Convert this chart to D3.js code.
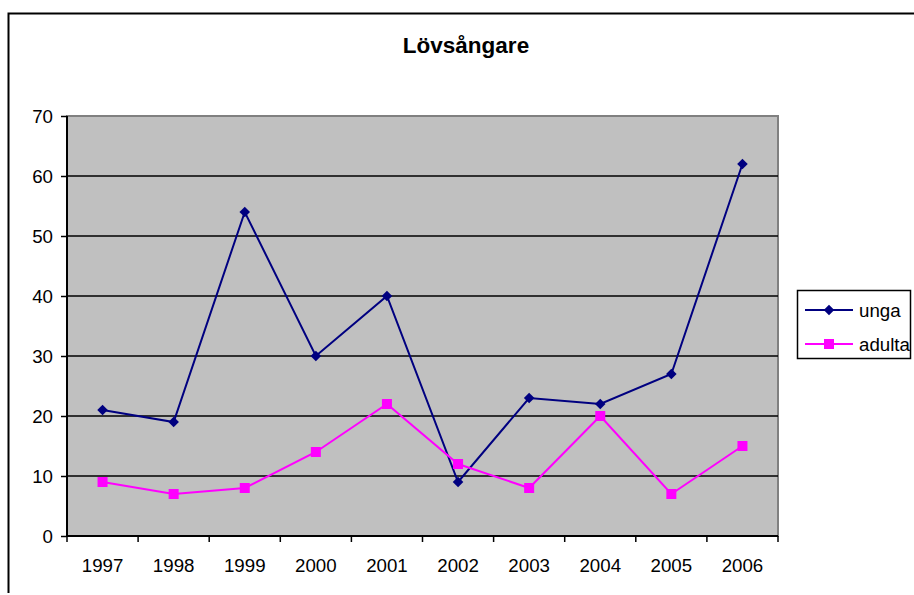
<!DOCTYPE html>
<html>
<head>
<meta charset="utf-8">
<script src="https://cdn.jsdelivr.net/npm/d3@7"></script>
<style>
  body { margin: 0; background: #fff; }
  svg text { font-family: "Liberation Sans", Arial, sans-serif; fill: #000; }
</style>
</head>
<body>
<div id="chart"></div>
<script>
const years = ["1997", "1998", "1999", "2000", "2001", "2002", "2003", "2004", "2005", "2006"];
const unga = [21, 19, 54, 30, 40, 9, 23, 22, 27, 62];
const adulta = [9, 7, 8, 14, 22, 12, 8, 20, 7, 15];
const yTicks = [0, 10, 20, 30, 40, 50, 60, 70];

const W = 914, H = 595;
const plot = { left: 67, top: 116, right: 778, bottom: 536 };

const svg = d3.select("#chart").append("svg")
  .attr("width", W)
  .attr("height", H);

// outer chart border (cut off at right and bottom)
svg.append("path")
  .attr("d", "M8.5,593 L8.5,13.5 L920,13.5")
  .attr("fill", "none")
  .attr("stroke", "#000")
  .attr("stroke-width", 2);

svg.append("text")
  .attr("x", 466)
  .attr("y", 53)
  .attr("text-anchor", "middle")
  .style("font-size", "22.5px")
  .style("font-weight", "bold")
  .text("Lövsångare");

const x = d3.scaleBand()
  .domain(years)
  .range([plot.left, plot.right]);

const y = d3.scaleLinear()
  .domain([0, 70])
  .range([plot.bottom, plot.top]);

// plot area
svg.append("rect")
  .attr("x", plot.left)
  .attr("y", plot.top)
  .attr("width", plot.right - plot.left)
  .attr("height", plot.bottom - plot.top)
  .attr("fill", "#c0c0c0")
  .attr("stroke", "#808080")
  .attr("stroke-width", 2);

// gridlines
svg.append("g")
  .selectAll("line")
  .data(yTicks.filter(d => d > 0 && d < 70))
  .join("line")
  .attr("x1", plot.left)
  .attr("x2", plot.right)
  .attr("y1", d => y(d))
  .attr("y2", d => y(d))
  .attr("stroke", "#000")
  .attr("stroke-width", 1.5);

// y axis
const yAxis = svg.append("g")
  .attr("transform", `translate(${plot.left},0)`)
  .call(d3.axisLeft(y).tickValues(yTicks).tickSize(6).tickPadding(8));
yAxis.select(".domain").attr("stroke", "#000").attr("stroke-width", 2)
  .attr("d", `M0,${plot.top}V${plot.bottom}`);
yAxis.selectAll(".tick line").attr("stroke", "#000").attr("stroke-width", 1.5);
yAxis.selectAll(".tick text")
  .style("font-size", "18.7px")
  .attr("dy", "0.36em");

// x axis, ticks at category boundaries
const xAxis = svg.append("g")
  .attr("transform", `translate(0,${plot.bottom})`);
xAxis.append("line")
  .attr("x1", plot.left)
  .attr("x2", plot.right)
  .attr("stroke", "#000")
  .attr("stroke-width", 2);
xAxis.selectAll("line.tick")
  .data(years.concat(["end"]))
  .join("line")
  .attr("class", "tick")
  .attr("x1", (d, i) => i < years.length ? x(d) : plot.right)
  .attr("x2", (d, i) => i < years.length ? x(d) : plot.right)
  .attr("y1", 0)
  .attr("y2", 6)
  .attr("stroke", "#000")
  .attr("stroke-width", 1.5);
xAxis.selectAll("text")
  .data(years)
  .join("text")
  .attr("x", d => x(d) + x.bandwidth() / 2)
  .attr("y", 36)
  .attr("text-anchor", "middle")
  .style("font-size", "18.7px")
  .text(d => d);

const cx = i => x(years[i]) + x.bandwidth() / 2;

const line = d3.line()
  .x((d, i) => cx(i))
  .y(d => y(d));

const diamond = d3.symbol().type(d3.symbolDiamond2 || d3.symbolSquare2).size(130);

// unga
svg.append("path")
  .datum(unga)
  .attr("d", line)
  .attr("fill", "none")
  .attr("stroke", "#000080")
  .attr("stroke-width", 2);
svg.append("g")
  .selectAll("path")
  .data(unga)
  .join("path")
  .attr("transform", (d, i) => `translate(${cx(i)},${y(d)}) rotate(45)`)
  .attr("d", d3.symbol().type(d3.symbolSquare).size(56))
  .attr("fill", "#000080");

// adulta
svg.append("path")
  .datum(adulta)
  .attr("d", line)
  .attr("fill", "none")
  .attr("stroke", "#ff00ff")
  .attr("stroke-width", 2);
svg.append("g")
  .selectAll("rect")
  .data(adulta)
  .join("rect")
  .attr("x", (d, i) => cx(i) - 5)
  .attr("y", d => y(d) - 5)
  .attr("width", 10)
  .attr("height", 10)
  .attr("fill", "#ff00ff");

// legend
const legend = svg.append("g");
legend.append("rect")
  .attr("x", 797.5)
  .attr("y", 290.5)
  .attr("width", 113)
  .attr("height", 68)
  .attr("fill", "#fff")
  .attr("stroke", "#000")
  .attr("stroke-width", 1.5);

const legendItems = [
  { name: "unga", color: "#000080", y: 310 },
  { name: "adulta", color: "#ff00ff", y: 344 }
];
legendItems.forEach((s, i) => {
  legend.append("line")
    .attr("x1", 805).attr("x2", 853)
    .attr("y1", s.y).attr("y2", s.y)
    .attr("stroke", s.color)
    .attr("stroke-width", 2);
  if (i === 0) {
    legend.append("path")
      .attr("transform", `translate(829,${s.y}) rotate(45)`)
      .attr("d", d3.symbol().type(d3.symbolSquare).size(56))
      .attr("fill", s.color);
  } else {
    legend.append("rect")
      .attr("x", 824).attr("y", s.y - 5)
      .attr("width", 10).attr("height", 10)
      .attr("fill", s.color);
  }
  legend.append("text")
    .attr("x", 859)
    .attr("y", s.y)
    .attr("dy", "0.36em")
    .style("font-size", "18.7px")
    .text(s.name);
});
</script>
</body>
</html>
